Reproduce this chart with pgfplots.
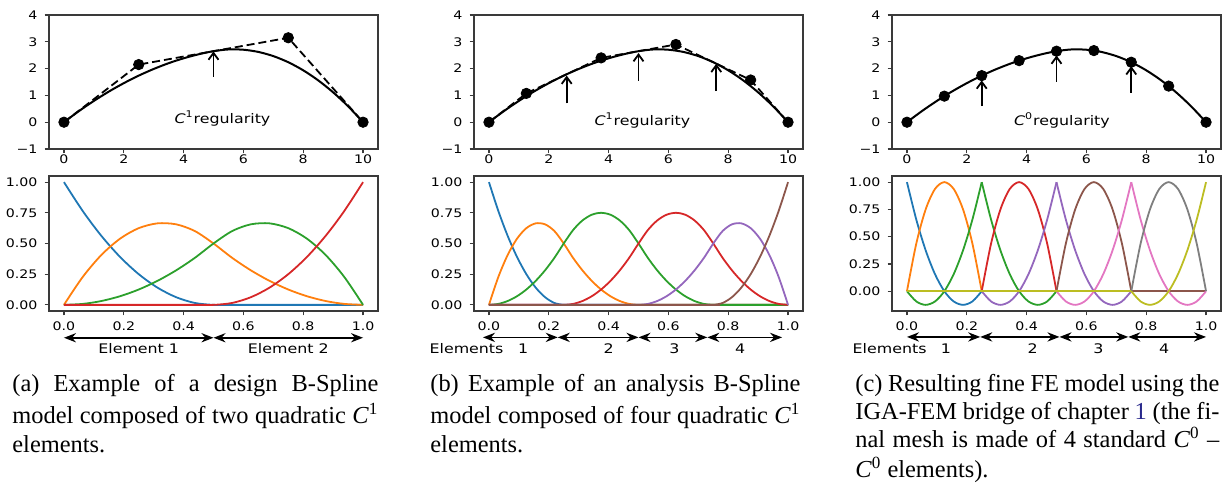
\documentclass[border=0pt]{standalone}
\usepackage{fontspec}
\usepackage{pgfplots}
\pgfplotsset{compat=1.18}
\usetikzlibrary{arrows.meta}
\newfontfamily\cf[FakeStretch=1.2]{DejaVu Sans}
\newfontfamily\capfont{Liberation Serif}
\definecolor{tBlue}{HTML}{1F77B4}
\definecolor{tOrange}{HTML}{FF7F0E}
\definecolor{tGreen}{HTML}{2CA02C}
\definecolor{tRed}{HTML}{D62728}
\definecolor{tPurple}{HTML}{9467BD}
\definecolor{tBrown}{HTML}{8C564B}
\definecolor{tPink}{HTML}{E377C2}
\definecolor{tGray}{HTML}{7F7F7F}
\definecolor{tOlive}{HTML}{BCBD22}
\definecolor{axgray}{HTML}{3A3A3A}
\definecolor{linkblue}{rgb}{0.16,0.16,0.55}
\tikzset{
  cB/.style={tBlue,line width=0.9pt},
  cO/.style={tOrange,line width=0.9pt},
  cG/.style={tGreen,line width=0.9pt},
  cR/.style={tRed,line width=0.9pt},
  cP/.style={tPurple,line width=0.9pt},
  cN/.style={tBrown,line width=0.9pt},
  cK/.style={tPink,line width=0.9pt},
  cY/.style={tGray,line width=0.9pt},
  cV/.style={tOlive,line width=0.9pt},
  elarr/.style={{Stealth[length=6pt,width=4.6pt]}-{Stealth[length=6pt,width=4.6pt]},line width=0.85pt,black},
  knotarr/.style={-{Straight Barb[length=3.4pt,width=5pt,line width=0.9pt]},line width=0.9pt,black},
  anno/.style={font=\cf\fontsize{6.6}{7}\selectfont,anchor=base,inner sep=0pt},
  capline/.style={anchor=base west,inner sep=0pt,font=\capfont\fontsize{12.2}{14.5}\selectfont},
}
\pgfplotsset{
  mpl/.style={scale only axis, width=164.5pt, clip=false,
    axis line style={axgray,line width=0.6pt},
    tick align=outside, major tick length=2.2pt,
    every tick/.style={axgray,line width=0.6pt},
    xtick pos=left, ytick pos=left,
    /pgf/number format/assume math mode=true,
    tick label style={font=\cf\fontsize{5.9}{7}\selectfont, text=black},
    yticklabel style={inner sep=0pt, xshift=-3.4pt},
    xticklabel style={inner sep=0pt, yshift=-0.5pt},
  },
  topax/.style={mpl, height=67pt, xmin=-0.5, xmax=10.5, ymin=-1, ymax=4,
    xtick={0,2,4,6,8,10}, ytick={-1,0,1,2,3,4}, yticklabels={−1,0,1,2,3,4}},
  botax/.style={mpl, height=67.5pt, xmin=-0.05, xmax=1.05,
    xtick={0,0.2,0.4,0.6,0.8,1}, xticklabels={0.0,0.2,0.4,0.6,0.8,1.0},
    ytick={0,0.25,0.5,0.75,1}, yticklabels={0.00,0.25,0.50,0.75,1.00},
    xticklabel style={inner sep=0pt, yshift=-2.6pt}},
}
\begin{document}
\begin{tikzpicture}
% ================= (a) top =================
\begin{axis}[topax, at={(24.5pt,-7.5pt)}, anchor=north west]
\addplot[black, line width=1pt, smooth] coordinates {(0,0) (0.5,0.414) (1,0.794) (1.5,1.142) (2,1.456) (2.5,1.738) (3,1.986) (3.5,2.202) (4,2.384) (4.5,2.534) (5,2.65) (5.5,2.714) (6,2.704) (6.5,2.622) (7,2.466) (7.5,2.238) (8,1.936) (8.5,1.562) (9,1.114) (9.5,0.594) (10,0)};
\addplot[black, line width=0.9pt, dash pattern=on 4pt off 2pt] coordinates {(0,0) (2.5,2.15) (7.5,3.15) (10,0)};
\addplot[only marks, mark=*, mark size=2.6pt, black] coordinates {(0,0) (2.5,2.15) (7.5,3.15) (10,0)};
\draw[knotarr] (5,1.7) -- (5,2.64);
\node[anno] at (5.3,-0.04) {\textit{C}\textsuperscript{1}regularity};
\end{axis}
% ================= (b) top =================
\begin{axis}[topax, at={(237pt,-7.5pt)}, anchor=north west]
\addplot[black, line width=1pt, smooth] coordinates {(0,0) (0.5,0.414) (1,0.794) (1.5,1.142) (2,1.456) (2.5,1.738) (3,1.986) (3.5,2.202) (4,2.384) (4.5,2.534) (5,2.65) (5.5,2.714) (6,2.704) (6.5,2.622) (7,2.466) (7.5,2.238) (8,1.936) (8.5,1.562) (9,1.114) (9.5,0.594) (10,0)};
\addplot[black, line width=0.9pt, dash pattern=on 4pt off 2pt] coordinates {(0,0) (1.25,1.075) (3.75,2.4) (6.25,2.9) (8.75,1.575) (10,0)};
\addplot[only marks, mark=*, mark size=2.6pt, black] coordinates {(0,0) (1.25,1.075) (3.75,2.4) (6.25,2.9) (8.75,1.575) (10,0)};
\draw[knotarr] (2.6,0.7) -- (2.6,1.74);
\draw[knotarr] (5,1.54) -- (5,2.58);
\draw[knotarr] (7.6,1.16) -- (7.6,2.18);
\node[anno] at (5.13,-0.14) {\textit{C}\textsuperscript{1}regularity};
\end{axis}
% ================= (c) top =================
\begin{axis}[topax, at={(446pt,-7.5pt)}, anchor=north west]
\addplot[black, line width=1pt, smooth] coordinates {(0,0) (0.5,0.414) (1,0.794) (1.5,1.142) (2,1.456) (2.5,1.738) (3,1.986) (3.5,2.202) (4,2.384) (4.5,2.534) (5,2.65) (5.5,2.714) (6,2.704) (6.5,2.622) (7,2.466) (7.5,2.238) (8,1.936) (8.5,1.562) (9,1.114) (9.5,0.594) (10,0)};
\addplot[only marks, mark=*, mark size=2.6pt, black] coordinates {(0,0) (1.25,0.972) (2.5,1.738) (3.75,2.297) (5,2.65) (6.25,2.672) (7.5,2.238) (8.75,1.347) (10,0)};
\draw[knotarr] (2.5,0.6) -- (2.5,1.56);
\draw[knotarr] (5,1.5) -- (5,2.49);
\draw[knotarr] (7.5,1.09) -- (7.5,2.09);
\node[anno] at (5.18,-0.14) {\textit{C}\textsuperscript{0}regularity};
\end{axis}
% ================= (a) bottom =================
\begin{axis}[botax, ymin=-0.05, ymax=1.05, at={(24.5pt,-88pt)}, anchor=north west]
\addplot[cB, smooth] coordinates {(0,1) (0.0625,0.765625) (0.125,0.5625) (0.1875,0.390625) (0.25,0.25) (0.3125,0.140625) (0.375,0.0625) (0.4375,0.015625) (0.5,0) (0.5625,0) (1,0)};
\addplot[cO, smooth] coordinates {(0,0) (0.0625,0.2265625) (0.125,0.40625) (0.1875,0.5390625) (0.25,0.625) (0.3125,0.6640625) (0.375,0.65625) (0.4375,0.6015625) (0.5,0.5) (0.5625,0.3828125) (0.625,0.28125) (0.6875,0.1953125) (0.75,0.125) (0.8125,0.0703125) (0.875,0.03125) (0.9375,0.0078125) (1,0)};
\addplot[cG, smooth] coordinates {(0,0) (0.0625,0.0078125) (0.125,0.03125) (0.1875,0.0703125) (0.25,0.125) (0.3125,0.1953125) (0.375,0.28125) (0.4375,0.3828125) (0.5,0.5) (0.5625,0.6015625) (0.625,0.65625) (0.6875,0.6640625) (0.75,0.625) (0.8125,0.5390625) (0.875,0.40625) (0.9375,0.2265625) (1,0)};
\addplot[cR, smooth] coordinates {(0,0) (0.4375,0) (0.5,0) (0.5625,0.015625) (0.625,0.0625) (0.6875,0.140625) (0.75,0.25) (0.8125,0.390625) (0.875,0.5625) (0.9375,0.765625) (1,1)};
\draw[elarr] (0,-0.268) -- (0.5,-0.268);
\draw[elarr] (0.5,-0.268) -- (1,-0.268);
\node[anno] at (0.25,-0.396) {Element 1};
\node[anno] at (0.75,-0.396) {Element 2};
\end{axis}
% ================= (b) bottom =================
\begin{axis}[botax, ymin=-0.05, ymax=1.05, at={(237pt,-88pt)}, anchor=north west]
\addplot[cB, smooth] coordinates {(0,1) (0.03125,0.765625) (0.0625,0.5625) (0.09375,0.390625) (0.125,0.25) (0.15625,0.140625) (0.1875,0.0625) (0.21875,0.015625) (0.25,0) (0.28125,0) (1,0)};
\addplot[cO, smooth] coordinates {(0,0) (0.03125,0.2265625) (0.0625,0.40625) (0.09375,0.5390625) (0.125,0.625) (0.15625,0.6640625) (0.1875,0.65625) (0.21875,0.6015625) (0.25,0.5) (0.28125,0.3828125) (0.3125,0.28125) (0.34375,0.1953125) (0.375,0.125) (0.40625,0.0703125) (0.4375,0.03125) (0.46875,0.0078125) (0.5,0) (0.53125,0) (1,0)};
\addplot[cG, smooth] coordinates {(0,0) (0.03125,0.0078125) (0.0625,0.03125) (0.09375,0.0703125) (0.125,0.125) (0.15625,0.1953125) (0.1875,0.28125) (0.21875,0.3828125) (0.25,0.5) (0.28125,0.609375) (0.3125,0.6875) (0.34375,0.734375) (0.375,0.75) (0.40625,0.734375) (0.4375,0.6875) (0.46875,0.609375) (0.5,0.5) (0.53125,0.3828125) (0.5625,0.28125) (0.59375,0.1953125) (0.625,0.125) (0.65625,0.0703125) (0.6875,0.03125) (0.71875,0.0078125) (0.75,0) (0.78125,0) (1,0)};
\addplot[cR, smooth] coordinates {(0,0) (0.21875,0) (0.25,0) (0.28125,0.0078125) (0.3125,0.03125) (0.34375,0.0703125) (0.375,0.125) (0.40625,0.1953125) (0.4375,0.28125) (0.46875,0.3828125) (0.5,0.5) (0.53125,0.609375) (0.5625,0.6875) (0.59375,0.734375) (0.625,0.75) (0.65625,0.734375) (0.6875,0.6875) (0.71875,0.609375) (0.75,0.5) (0.78125,0.3828125) (0.8125,0.28125) (0.84375,0.1953125) (0.875,0.125) (0.90625,0.0703125) (0.9375,0.03125) (0.96875,0.0078125) (1,0)};
\addplot[cP, smooth] coordinates {(0,0) (0.46875,0) (0.5,0) (0.53125,0.0078125) (0.5625,0.03125) (0.59375,0.0703125) (0.625,0.125) (0.65625,0.1953125) (0.6875,0.28125) (0.71875,0.3828125) (0.75,0.5) (0.78125,0.6015625) (0.8125,0.65625) (0.84375,0.6640625) (0.875,0.625) (0.90625,0.5390625) (0.9375,0.40625) (0.96875,0.2265625) (1,0)};
\addplot[cN, smooth] coordinates {(0,0) (0.71875,0) (0.75,0) (0.78125,0.015625) (0.8125,0.0625) (0.84375,0.140625) (0.875,0.25) (0.90625,0.390625) (0.9375,0.5625) (0.96875,0.765625) (1,1)};
\draw[elarr] (-0.02,-0.265) -- (0.23,-0.265);
\draw[elarr] (0.23,-0.265) -- (0.5,-0.265);
\draw[elarr] (0.5,-0.265) -- (0.73,-0.265);
\draw[elarr] (0.73,-0.265) -- (0.98,-0.265);
\node[anno] at (-0.075,-0.396) {Elements};
\node[anno] at (0.114,-0.396) {1};
\node[anno] at (0.40,-0.396) {2};
\node[anno] at (0.62,-0.396) {3};
\node[anno] at (0.84,-0.396) {4};
\end{axis}
% ================= (c) bottom =================
\begin{axis}[botax, ymin=-0.18125, ymax=1.05625, at={(446pt,-88pt)}, anchor=north west]
% blue (node 0)
\addplot[cB, smooth] coordinates {(0,1) (0.03125,0.65625) (0.0625,0.375) (0.09375,0.15625) (0.125,0) (0.15625,-0.09375) (0.1875,-0.125) (0.21875,-0.09375) (0.25,0)};
\addplot[cB] coordinates {(0.25,0) (1,0)};
% orange (node 0.125)
\addplot[cO, smooth] coordinates {(0,0) (0.03125,0.4375) (0.0625,0.75) (0.09375,0.9375) (0.125,1) (0.15625,0.9375) (0.1875,0.75) (0.21875,0.4375) (0.25,0)};
\addplot[cO] coordinates {(0.25,0) (1,0)};
% green (node 0.25)
\addplot[cG, smooth] coordinates {(0,0) (0.03125,-0.09375) (0.0625,-0.125) (0.09375,-0.09375) (0.125,0) (0.15625,0.15625) (0.1875,0.375) (0.21875,0.65625) (0.25,1)};
\addplot[cG, smooth] coordinates {(0.25,1) (0.28125,0.65625) (0.3125,0.375) (0.34375,0.15625) (0.375,0) (0.40625,-0.09375) (0.4375,-0.125) (0.46875,-0.09375) (0.5,0)};
\addplot[cG] coordinates {(0.5,0) (1,0)};
% red (node 0.375)
\addplot[cR] coordinates {(0,0) (0.25,0)};
\addplot[cR, smooth] coordinates {(0.25,0) (0.28125,0.4375) (0.3125,0.75) (0.34375,0.9375) (0.375,1) (0.40625,0.9375) (0.4375,0.75) (0.46875,0.4375) (0.5,0)};
\addplot[cR] coordinates {(0.5,0) (1,0)};
% purple (node 0.5)
\addplot[cP] coordinates {(0,0) (0.25,0)};
\addplot[cP, smooth] coordinates {(0.25,0) (0.28125,-0.09375) (0.3125,-0.125) (0.34375,-0.09375) (0.375,0) (0.40625,0.15625) (0.4375,0.375) (0.46875,0.65625) (0.5,1)};
\addplot[cP, smooth] coordinates {(0.5,1) (0.53125,0.65625) (0.5625,0.375) (0.59375,0.15625) (0.625,0) (0.65625,-0.09375) (0.6875,-0.125) (0.71875,-0.09375) (0.75,0)};
\addplot[cP] coordinates {(0.75,0) (1,0)};
% brown (node 0.625)
\addplot[cN] coordinates {(0,0) (0.5,0)};
\addplot[cN, smooth] coordinates {(0.5,0) (0.53125,0.4375) (0.5625,0.75) (0.59375,0.9375) (0.625,1) (0.65625,0.9375) (0.6875,0.75) (0.71875,0.4375) (0.75,0)};
\addplot[cN] coordinates {(0.75,0) (1,0)};
% pink (node 0.75)
\addplot[cK] coordinates {(0,0) (0.5,0)};
\addplot[cK, smooth] coordinates {(0.5,0) (0.53125,-0.09375) (0.5625,-0.125) (0.59375,-0.09375) (0.625,0) (0.65625,0.15625) (0.6875,0.375) (0.71875,0.65625) (0.75,1)};
\addplot[cK, smooth] coordinates {(0.75,1) (0.78125,0.65625) (0.8125,0.375) (0.84375,0.15625) (0.875,0) (0.90625,-0.09375) (0.9375,-0.125) (0.96875,-0.09375) (1,0)};
% gray (node 0.875)
\addplot[cY] coordinates {(0,0) (0.75,0)};
\addplot[cY, smooth] coordinates {(0.75,0) (0.78125,0.4375) (0.8125,0.75) (0.84375,0.9375) (0.875,1) (0.90625,0.9375) (0.9375,0.75) (0.96875,0.4375) (1,0)};
% olive (node 1)
\addplot[cV] coordinates {(0,0) (0.75,0)};
\addplot[cV, smooth] coordinates {(0.75,0) (0.78125,-0.09375) (0.8125,-0.125) (0.84375,-0.09375) (0.875,0) (0.90625,0.15625) (0.9375,0.375) (0.96875,0.65625) (1,1)};
\draw[elarr] (0,-0.419) -- (0.245,-0.419);
\draw[elarr] (0.245,-0.419) -- (0.51,-0.419);
\draw[elarr] (0.51,-0.419) -- (0.74,-0.419);
\draw[elarr] (0.74,-0.419) -- (1,-0.419);
\node[anno] at (-0.058,-0.572) {Elements};
\node[anno] at (0.13,-0.572) {1};
\node[anno] at (0.42,-0.572) {2};
\node[anno] at (0.64,-0.572) {3};
\node[anno] at (0.86,-0.572) {4};
\end{axis}
% ================= captions =================
\node[capline] at (6pt,-195.85pt) {\makebox[183pt][s]{(a) Example of a design B-Spline}};
\node[capline] at (6pt,-211.65pt) {\makebox[183pt][s]{model composed of two quadratic \textit{C}\textsuperscript{1}}};
\node[capline] at (6pt,-226.35pt) {elements.};
\node[capline] at (215pt,-195.85pt) {\makebox[185pt][s]{(b) Example of an analysis B-Spline}};
\node[capline] at (215pt,-211.65pt) {\makebox[185pt][s]{model composed of four quadratic \textit{C}\textsuperscript{1}}};
\node[capline] at (215pt,-226.35pt) {elements.};
\node[capline] at (427.5pt,-195.85pt) {\makebox[182pt][s]{(c) Resulting fine FE model using the}};
\node[capline] at (427.5pt,-210pt) {\makebox[182pt][s]{IGA-FEM bridge of chapter \textcolor{linkblue}{1} (the fi-}};
\node[capline] at (427.5pt,-223.65pt) {\makebox[182pt][s]{nal mesh is made of 4 standard \textit{C}\textsuperscript{0} –}};
\node[capline] at (427.5pt,-238.65pt) {\textit{C}\textsuperscript{0} elements).};
\pgfresetboundingbox
\path[use as bounding box] (0,0) rectangle (611pt,-243pt);
\end{tikzpicture}
\end{document}
